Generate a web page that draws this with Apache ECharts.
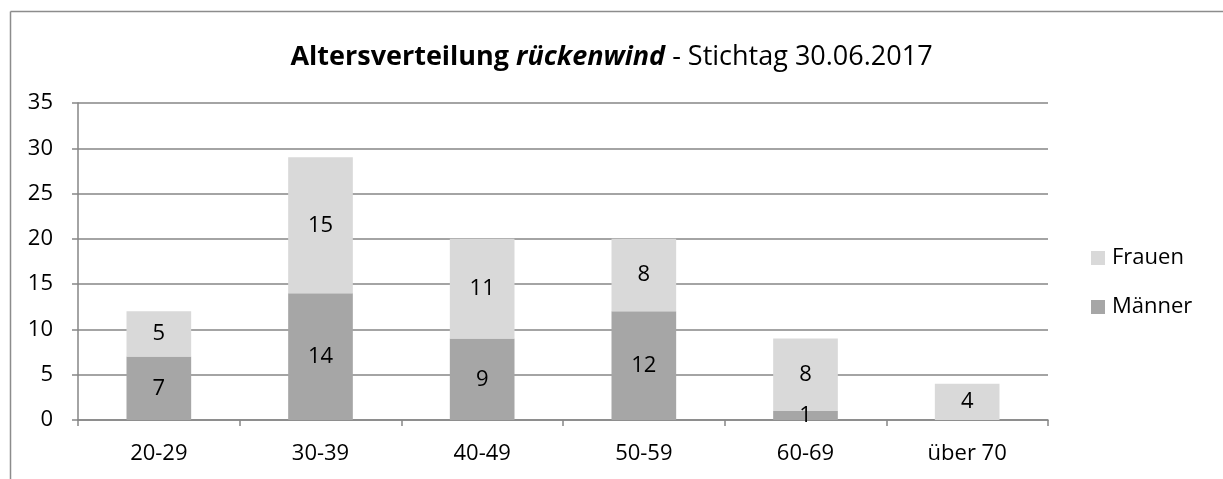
<!DOCTYPE html>
<html>
<head>
<meta charset="utf-8">
<script src="https://cdn.jsdelivr.net/npm/echarts@6/dist/echarts.min.js"></script>
<style>
html,body{margin:0;padding:0;background:#fff;}
#chart{width:1223px;height:479px;}
</style>
</head>
<body>
<div id="chart"></div>
<script>
var categories = ['20-29', '30-39', '40-49', '50-59', '60-69', 'über 70'];
var maenner = [7, 14, 9, 12, 1, 0];
var frauen = [5, 15, 11, 8, 8, 4];
var yTicks = [0, 5, 10, 15, 20, 25, 30, 35];

var FONT = '"Open Sans", "Noto Sans", sans-serif';
var GRID_COLOR = '#868686';
var FS = 22;

var chart = echarts.init(document.getElementById('chart'));
var labelStyle = {
  show: true,
  position: 'inside',
  color: '#000',
  fontSize: FS,
  fontFamily: FONT,
  formatter: function (p) { return p.value ? String(p.value) : ''; }
};
chart.setOption({
  animation: false,
  backgroundColor: '#fff',
  textStyle: { fontFamily: FONT },
  title: {
    left: 'center',
    top: 39,
    text: '{b|Altersverteilung }{bi|rückenwind}{n| - Stichtag 30.06.2017}',
    textStyle: {
      rich: {
        b: { fontSize: 27, fontWeight: 'bold', color: '#000', fontFamily: FONT },
        bi: { fontSize: 27, fontWeight: 'bold', fontStyle: 'italic', color: '#000', fontFamily: FONT },
        n: { fontSize: 27, fontWeight: 'normal', color: '#000', fontFamily: FONT }
      }
    }
  },
  legend: {
    orient: 'vertical',
    left: 1091,
    top: 247,
    padding: 0,
    itemWidth: 14,
    itemHeight: 14,
    itemGap: 27,
    icon: 'rect',
    data: ['Frauen', 'Männer'],
    textStyle: { fontSize: FS, lineHeight: 22, color: '#000', fontFamily: FONT, padding: [0, 0, 0, 2] }
  },
  graphic: [
    { type: 'line', shape: { x1: 10.5, y1: 11.5, x2: 10.5, y2: 479 }, style: { stroke: '#8c8c8c', lineWidth: 1.5 } },
    { type: 'line', shape: { x1: 10.5, y1: 11.5, x2: 1223, y2: 11.5 }, style: { stroke: '#8c8c8c', lineWidth: 1.5 } }
  ],
  grid: { left: 78, right: 175, top: 103, bottom: 59, containLabel: false },
  xAxis: {
    type: 'category',
    data: categories,
    axisLine: { lineStyle: { color: GRID_COLOR, width: 1.5 } },
    axisTick: { show: true, alignWithLabel: false, length: 6, lineStyle: { color: GRID_COLOR, width: 1.5 } },
    axisLabel: { fontSize: FS, color: '#000', margin: 23, fontFamily: FONT }
  },
  yAxis: {
    type: 'value',
    min: yTicks[0],
    max: yTicks[yTicks.length - 1],
    interval: 5,
    axisLine: { show: true, lineStyle: { color: GRID_COLOR, width: 1.5 } },
    axisTick: { show: true, length: 6, lineStyle: { color: GRID_COLOR, width: 1.5 } },
    axisLabel: { fontSize: FS, color: '#000', margin: 25, fontFamily: FONT },
    splitLine: { lineStyle: { color: GRID_COLOR, width: 1.5 } }
  },
  series: [
    {
      name: 'Männer',
      type: 'bar',
      stack: 'a',
      barWidth: '40%',
      itemStyle: { color: '#a6a6a6' },
      label: labelStyle,
      data: maenner
    },
    {
      name: 'Frauen',
      type: 'bar',
      stack: 'a',
      barWidth: '40%',
      itemStyle: { color: '#d9d9d9' },
      label: labelStyle,
      data: frauen
    }
  ]
});
</script>
</body>
</html>
